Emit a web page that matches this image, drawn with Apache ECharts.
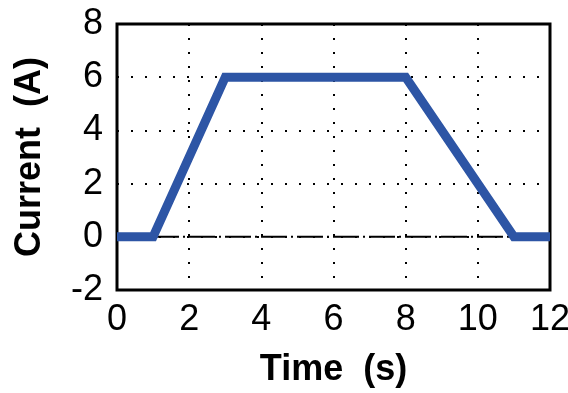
<!DOCTYPE html>
<html>
<head>
<meta charset="utf-8">
<script src="https://cdn.jsdelivr.net/npm/echarts@6/dist/echarts.min.js"></script>
<style>
  html, body { margin: 0; padding: 0; background: #fff; }
  #chart { width: 568px; height: 393px; }
</style>
</head>
<body>
<div id="chart"></div>
<script>
// profile of the current over time
const timeValues = [0, 1, 3, 8, 11, 12]
const currentValues = [0, 0, 6, 6, 0, 0]
// zero reference line
const zeroX = [0, 12]
const zeroY = [0, 0]
const xTicks = [0, 2, 4, 6, 8, 10, 12]
const yTicks = [-2, 0, 2, 4, 6, 8]

const chart = echarts.init(document.getElementById('chart'))
const tickFont = { color: '#000', fontSize: 36, fontFamily: 'Liberation Sans' }
const titleFont = { color: '#000', fontSize: 36, fontWeight: 'bold', fontFamily: 'Liberation Sans' }
const gridLine = { show: true, lineStyle: { color: '#000', type: [2, 12], width: 2 } }

chart.setOption({
  animation: false,
  grid: {
    left: 117, right: 18, top: 24, bottom: 103,
    outerBoundsMode: 'none',
    containLabel: false,
    show: true, borderColor: '#000', borderWidth: 3
  },
  xAxis: {
    type: 'value',
    min: xTicks[0],
    max: xTicks[xTicks.length - 1],
    interval: 2,
    name: 'Time  (s)',
    nameLocation: 'middle',
    nameGap: 62,
    nameMoveOverlap: false,
    nameTextStyle: titleFont,
    axisLine: { show: false },
    axisTick: { show: false },
    axisLabel: Object.assign({ margin: 12 }, tickFont),
    splitLine: gridLine
  },
  yAxis: {
    type: 'value',
    min: yTicks[0],
    max: yTicks[yTicks.length - 1],
    interval: 2,
    name: 'Current  (A)',
    nameLocation: 'middle',
    nameGap: 69,
    nameMoveOverlap: false,
    nameTextStyle: titleFont,
    axisLine: { show: false },
    axisTick: { show: false },
    axisLabel: Object.assign({ margin: 14 }, tickFont),
    splitLine: gridLine
  },
  series: [
    {
      type: 'line',
      data: zeroX.map((x, i) => [x, zeroY[i]]),
      symbol: 'none',
      lineStyle: { color: '#000', width: 2, type: [26, 4, 2, 4] },
      z: 2
    },
    {
      type: 'line',
      data: timeValues.map((t, i) => [t, currentValues[i]]),
      symbol: 'none',
      lineStyle: { color: '#2d55a5', width: 9, join: 'miter' },
      z: 3
    }
  ]
})
</script>
</body>
</html>
